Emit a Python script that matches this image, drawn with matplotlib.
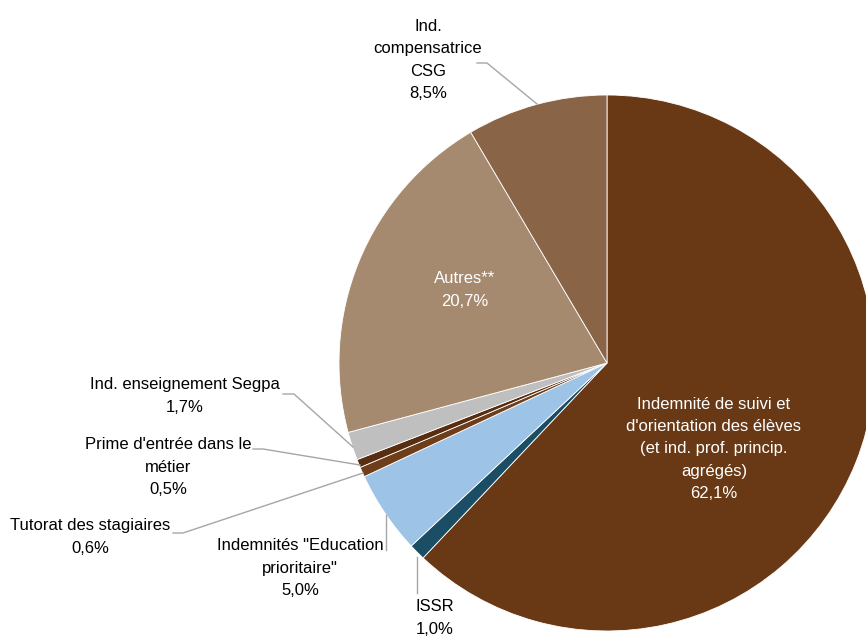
import matplotlib
matplotlib.use("Agg")
import matplotlib.pyplot as plt

plt.rcParams['font.family'] = ['Liberation Sans', 'DejaVu Sans']

labels = ["Indemnité de suivi et\nd'orientation des élèves\n(et ind. prof. princip.\nagrégés)",
          "ISSR",
          "Indemnités \"Education\nprioritaire\"",
          "Tutorat des stagiaires",
          "Prime d'entrée dans le\nmétier",
          "Ind. enseignement Segpa",
          "Autres**",
          "Ind.\ncompensatrice\nCSG"]
values = [62.1, 1.0, 5.0, 0.6, 0.5, 1.7, 20.7, 8.5]
colors = ["#693915", "#1B4E64", "#9DC3E6", "#6E3D19", "#582D10", "#BFBFBF", "#A68A70", "#8A6446"]

W, H = 866, 637
fig = plt.figure(figsize=(W/100, H/100), dpi=100)
ax = fig.add_axes([0, 0, 1, 1])

def py(y):
    return H - y

cx, cy, r = 607, 363, 268
ax.pie(values, colors=colors, startangle=90, counterclock=False,
       center=(cx, py(cy)), radius=r, frame=True,
       wedgeprops=dict(edgecolor='white', linewidth=0.6))
ax.set_xlim(0, W)
ax.set_ylim(0, H)
ax.set_aspect('equal')
ax.axis('off')

def pct(v):
    return f"{v:.1f}".replace('.', ',') + "%"

fs = 12
ls = 1.6
pos = [(714, 449, 'white'), (435, 618, 'black'), (300, 568, 'black'),
       (90, 537, 'black'), (168, 467, 'black'), (185, 396, 'black'),
       (465, 290, 'white'), (428, 60, 'black')]
for lab, v, (x, y, c) in zip(labels, values, pos):
    ax.text(x, py(y), lab + "\n" + pct(v), ha='center', va='center',
            fontsize=fs, color=c, linespacing=ls)

lc = '#A6A6A6'
leaders = [
    [(477, 63), (487, 63), (537, 104)],
    [(283, 394), (294, 394), (353, 447)],
    [(253, 449), (263, 449), (360, 465)],
    [(173, 533), (183, 533), (363, 473)],
    [(386, 515), (386, 550)],
    [(417, 557), (417, 593)],
]
for pts in leaders:
    xs = [p[0] for p in pts]
    ys = [py(p[1]) for p in pts]
    ax.plot(xs, ys, color=lc, linewidth=1.0)

fig.savefig("out.png", dpi=100, facecolor='white')
